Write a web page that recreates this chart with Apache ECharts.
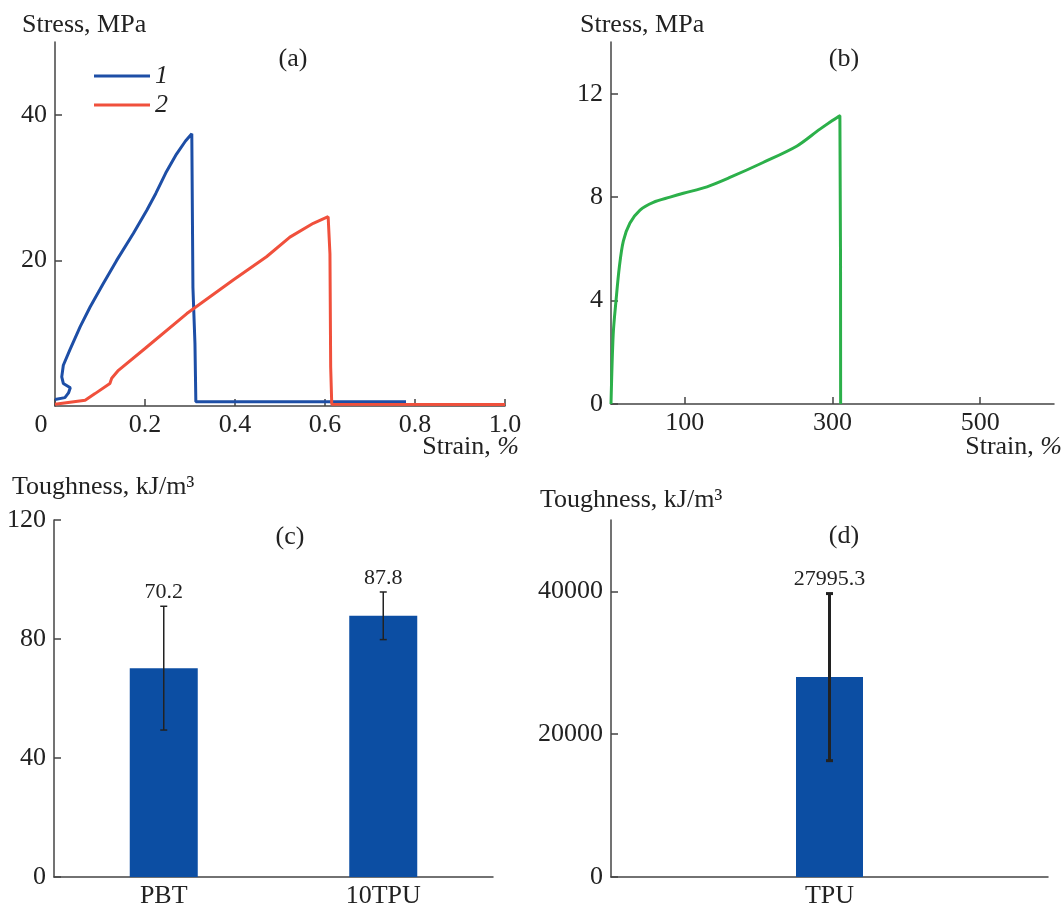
<!DOCTYPE html>
<html>
<head>
<meta charset="utf-8">
<title>Stress-strain and toughness</title>
<script src="https://cdn.jsdelivr.net/npm/echarts@6/dist/echarts.min.js"></script>
<style>
  html, body { margin: 0; padding: 0; background: #fff; }
  #chart { width: 1063px; height: 909px; }
</style>
</head>
<body>
<div id="chart"></div>
<script>
// (a) stress-strain, strain in %, stress in MPa
var curve1 = [
  [0, 0.9], [0.022, 1.15], [0.030, 1.8], [0.034, 2.5], [0.0185, 3.1], [0.015, 4.0],
  [0.0185, 5.6], [0.033, 7.7], [0.056, 10.9], [0.078, 13.6], [0.107, 16.8],
  [0.137, 20.0], [0.174, 23.7], [0.204, 26.9], [0.224, 29.2], [0.246, 32.0],
  [0.27, 34.6], [0.29, 36.4], [0.304, 37.4], [0.3065, 16.3], [0.311, 8.6],
  [0.313, 0.6], [0.78, 0.6]
];
var curve2 = [
  [0, 0.25], [0.067, 0.8], [0.089, 1.7], [0.122, 3.1], [0.126, 3.8], [0.141, 4.9],
  [0.2, 7.9], [0.293, 12.7], [0.396, 17.3], [0.47, 20.5], [0.522, 23.2],
  [0.574, 25.1], [0.607, 26.0], [0.611, 20.9], [0.6126, 5.4], [0.615, 0.25], [1.0, 0.2]
];
// (b) TPU
var curveTPU = [
  [0, 0], [3, 2.7], [6.8, 4.0], [11.3, 5.3], [16.7, 6.3], [25.7, 7.0], [39.3, 7.5],
  [57.3, 7.8], [80, 8.0], [98, 8.15], [130, 8.4], [161, 8.76], [206, 9.34],
  [252, 9.98], [283, 10.63], [310, 11.15], [311, 0]
];
// (c), (d) toughness, kJ/m3
var catsC = ['PBT', '10TPU'];
var valsC = [70.2, 87.8];
var errC = [20.8, 8.0];
var catsD = ['TPU'];
var valsD = [27995.3];
var errD = [11700];

var FONT = '"Liberation Serif", "Times New Roman", serif';
var AXIS = '#444';
var BAR = '#0c4ea3';

function errorData(vals, errs) {
  return vals.map(function (v, i) { return [i, v - errs[i], v + errs[i], v]; });
}

function errorSeries(x, y, vals, errs, lw) {
  return {
    type: 'custom',
    xAxisIndex: x, yAxisIndex: y,
    data: errorData(vals, errs),
    encode: { x: 0, y: [1, 2] },
    z: 5,
    renderItem: function (params, api) {
      var lo = api.coord([api.value(0), api.value(1)]);
      var hi = api.coord([api.value(0), api.value(2)]);
      var c = 3.5;
      var st = { stroke: '#222', lineWidth: lw };
      return {
        type: 'group',
        children: [
          { type: 'line', shape: { x1: lo[0], y1: lo[1], x2: hi[0], y2: hi[1] }, style: st },
          { type: 'line', shape: { x1: hi[0] - c, y1: hi[1], x2: hi[0] + c, y2: hi[1] }, style: st },
          { type: 'line', shape: { x1: lo[0] - c, y1: lo[1], x2: lo[0] + c, y2: lo[1] }, style: st },
          { type: 'text', style: {
              text: String(api.value(3)), x: hi[0], y: hi[1] - 14,
              align: 'center', verticalAlign: 'middle',
              fontSize: 22, fontFamily: FONT, fill: '#222' } }
        ]
      };
    }
  };
}

function valueAxis(opt) {
  var a = {
    type: 'value',
    axisLine: { show: true, onZero: false, lineStyle: { color: AXIS, width: 1.5 } },
    axisTick: { show: true, inside: true, length: 7, lineStyle: { color: AXIS, width: 1.5 } },
    axisLabel: { color: '#222', fontSize: 26, fontFamily: FONT, margin: 8 },
    splitLine: { show: false }
  };
  for (var k in opt) {
    if (typeof opt[k] === 'object' && a[k] && !Array.isArray(opt[k])) {
      for (var j in opt[k]) a[k][j] = opt[k][j];
    } else {
      a[k] = opt[k];
    }
  }
  return a;
}

function catAxis(grid, cats) {
  return {
    type: 'category', gridIndex: grid, data: cats,
    axisLine: { show: true, lineStyle: { color: AXIS, width: 1.5 } },
    axisTick: { show: true, inside: true, alignWithLabel: true, length: 7, lineStyle: { color: AXIS, width: 1.5 } },
    axisLabel: { color: '#222', fontSize: 26, fontFamily: FONT, margin: 6 }
  };
}

function label(text, x, y, align, size) {
  return {
    type: 'text', x: x, y: y,
    style: { text: text, align: align || 'center', verticalAlign: 'middle',
             fontSize: size || 26, fontFamily: FONT, fill: '#222' }
  };
}

var chart = echarts.init(document.getElementById('chart'));

chart.setOption({
  animation: false,
  backgroundColor: '#fff',
  grid: [
    { left: 55, top: 42, width: 450, height: 364 },
    { left: 611, top: 42, width: 443, height: 362 },
    { left: 54, top: 520, width: 439, height: 362 },
    { left: 611, top: 520, width: 437, height: 363 }
  ],
  legend: {
    data: ['1', '2'],
    orient: 'vertical',
    left: 89, top: 58,
    icon: 'rect', itemWidth: 56, itemHeight: 3, itemGap: 3,
    textStyle: { fontSize: 26, fontFamily: FONT, fontStyle: 'italic', color: '#222', lineHeight: 26 }
  },
  xAxis: [
    valueAxis({
      gridIndex: 0, min: 0, max: 1, interval: 0.2,
      axisLabel: {
        margin: 6,
        formatter: function (v) { return v === 0 ? '{z|0}' : v.toFixed(1); },
        rich: { z: { padding: [0, 28, 0, 0], fontSize: 26, fontFamily: FONT, color: '#222' } }
      }
    }),
    valueAxis({
      gridIndex: 1, min: 0, max: 600,
      axisLabel: { margin: 6, customValues: [100, 300, 500] },
      axisTick: { customValues: [100, 300, 500] }
    }),
    catAxis(2, catsC),
    catAxis(3, catsD)
  ],
  yAxis: [
    valueAxis({
      gridIndex: 0, min: 0, max: 50,
      axisLabel: { customValues: [20, 40] },
      axisTick: { customValues: [20, 40] }
    }),
    valueAxis({
      gridIndex: 1, min: 0, max: 14,
      axisLabel: { customValues: [0, 4, 8, 12] },
      axisTick: { customValues: [0, 4, 8, 12] }
    }),
    valueAxis({ gridIndex: 2, min: 0, max: 120, interval: 40 }),
    valueAxis({
      gridIndex: 3, min: 0, max: 50000,
      axisLabel: { customValues: [0, 20000, 40000], formatter: function (v) { return String(v); } },
      axisTick: { customValues: [0, 20000, 40000] }
    })
  ],
  series: [
    { name: '1', type: 'line', xAxisIndex: 0, yAxisIndex: 0, data: curve1, showSymbol: false,
      color: '#1d4ea6', lineStyle: { width: 3, color: '#1d4ea6' } },
    { name: '2', type: 'line', xAxisIndex: 0, yAxisIndex: 0, data: curve2, showSymbol: false,
      color: '#f0503c', lineStyle: { width: 3, color: '#f0503c' } },
    { name: 'TPU', type: 'line', xAxisIndex: 1, yAxisIndex: 1, data: curveTPU, showSymbol: false,
      smooth: 0.3, color: '#2cb04a', lineStyle: { width: 3, color: '#2cb04a' } },
    { type: 'bar', xAxisIndex: 2, yAxisIndex: 2, data: valsC, barWidth: 68, itemStyle: { color: BAR } },
    errorSeries(2, 2, valsC, errC, 1.5),
    { type: 'bar', xAxisIndex: 3, yAxisIndex: 3, data: valsD, barWidth: 67, itemStyle: { color: BAR } },
    errorSeries(3, 3, valsD, errD, 3)
  ],
  graphic: [
    label('Stress, MPa', 22, 25, 'left'),
    label('Stress, MPa', 580, 25, 'left'),
    label('(a)', 293, 59),
    label('(b)', 844, 59),
    label('(c)', 290, 537),
    label('(d)', 844, 536),
    {
      type: 'text', x: 519, y: 447,
      style: { text: 'Strain, {i|%}', align: 'right', verticalAlign: 'middle',
               fontSize: 26, fontFamily: FONT, fill: '#222',
               rich: { i: { fontStyle: 'italic', fontSize: 26, fontFamily: FONT, fill: '#222' } } }
    },
    {
      type: 'text', x: 1062, y: 447,
      style: { text: 'Strain, {i|%}', align: 'right', verticalAlign: 'middle',
               fontSize: 26, fontFamily: FONT, fill: '#222',
               rich: { i: { fontStyle: 'italic', fontSize: 26, fontFamily: FONT, fill: '#222' } } }
    },
    label('Toughness, kJ/m\u00b3', 12, 487, 'left'),
    label('Toughness, kJ/m\u00b3', 540, 500, 'left')
  ]
});
</script>
</body>
</html>
